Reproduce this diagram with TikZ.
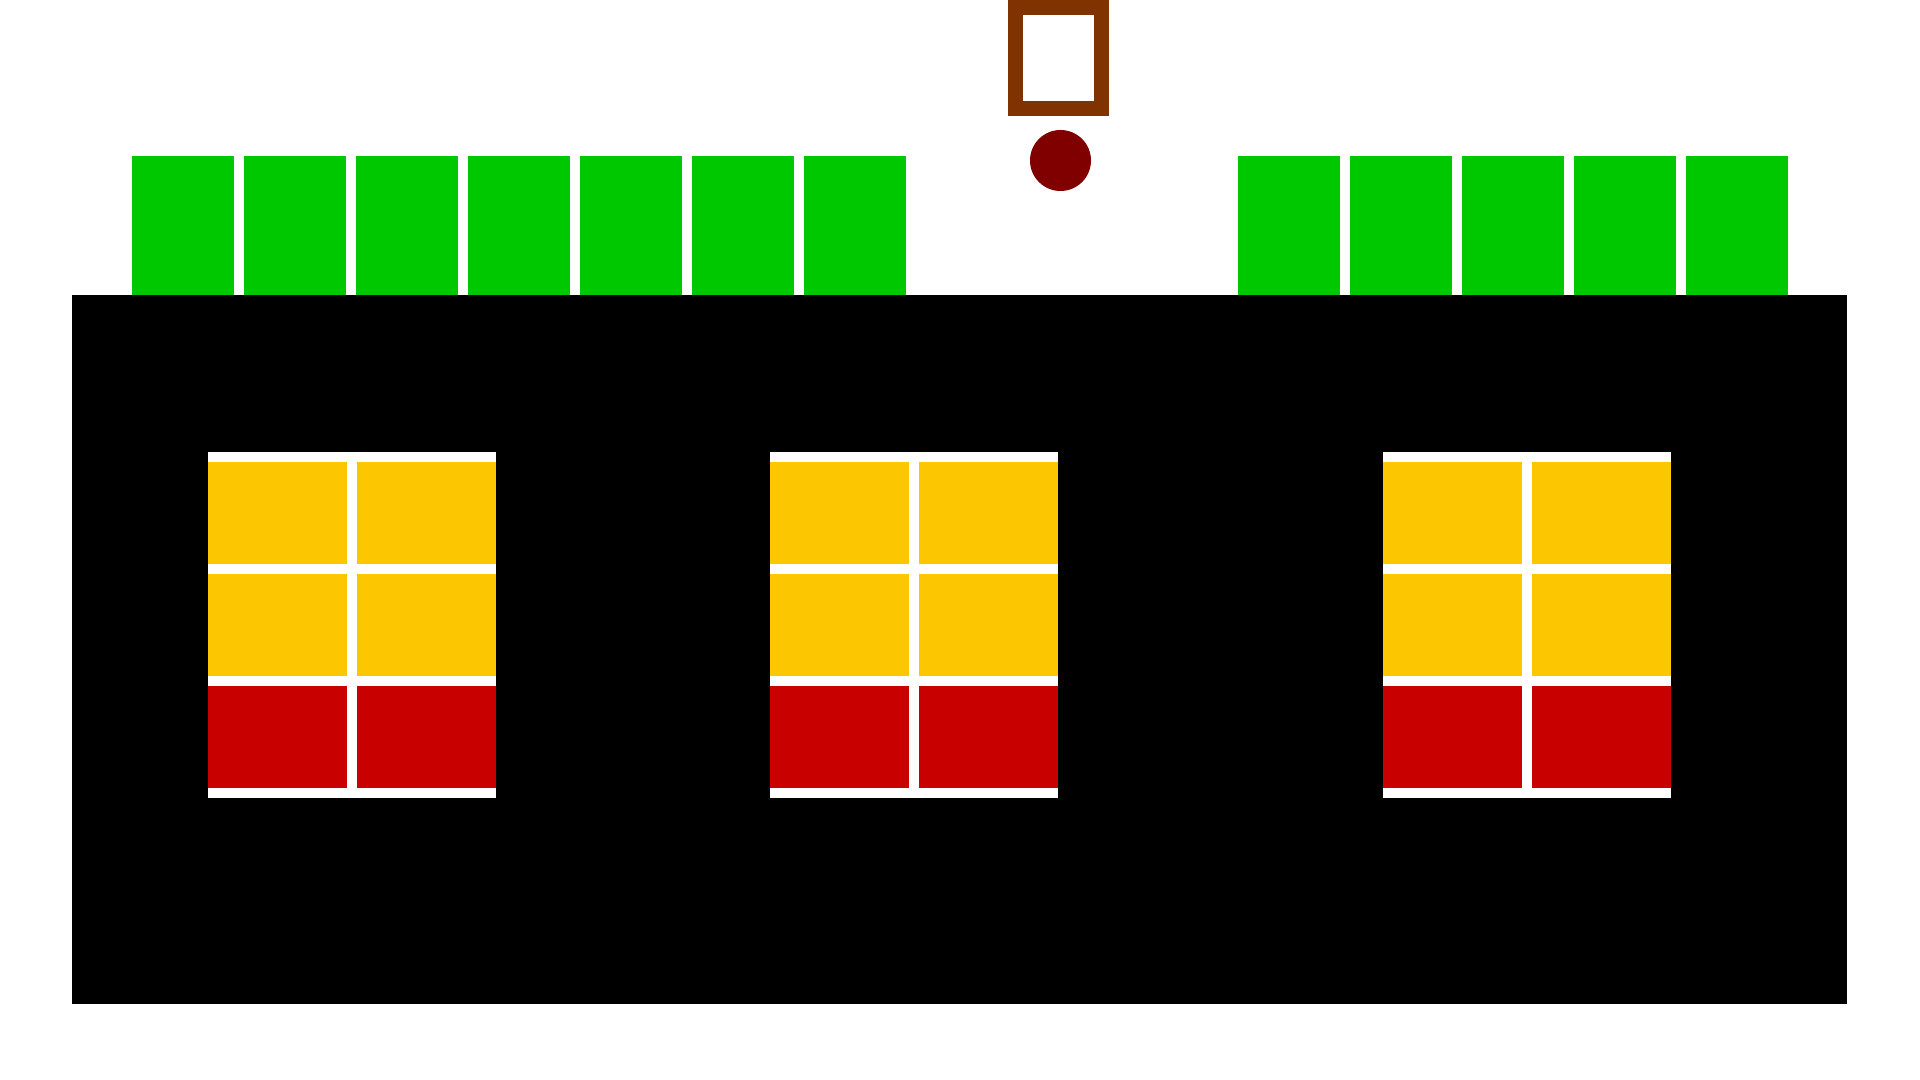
\documentclass[tikz,border=0pt]{standalone}
\definecolor{roofgreen}{RGB}{0, 200, 0}
\definecolor{paneyellow}{RGB}{253, 199, 0}
\definecolor{panered}{RGB}{200, 0, 0}
\definecolor{framebrown}{RGB}{128, 51, 0}
\definecolor{bulbred}{RGB}{128, 0, 0}
\usetikzlibrary{calc}

\tikzset{
  roofblock/.style={fill=roofgreen},
  upperpane/.style={fill=paneyellow},
  lowerpane/.style={fill=panered},
  signframe/.style={draw=framebrown, line width=0.15cm},
}

\begin{document}
\begin{tikzpicture}[x=0.01cm, y=-0.01cm]
  \useasboundingbox (0,0) rectangle (1920,1080);

  % Green blocks on the roof
  \foreach \i in {0,...,6}
    \fill[roofblock] ({132+112*\i},156) rectangle ++(102,139);
  \foreach \i in {0,...,4}
    \fill[roofblock] ({1238+112*\i},156) rectangle ++(102,139);

  % Wall
  \fill[black] (72,295) rectangle (1847,1004);

  % Windows
  \foreach \wx in {208,770,1383} {
    \fill[white] (\wx,452) rectangle ++(288,346);
    \foreach \c in {0,1} {
      \foreach \r in {0,1}
        \fill[upperpane] ({\wx+149*\c},{462+112*\r}) rectangle ++(139,102);
      \fill[lowerpane] ({\wx+149*\c},686) rectangle ++(139,102);
    }
  }

  % Sign and lamp
  \draw[signframe] (1015.5,7.5) rectangle (1101.5,108.5);
  \fill[bulbred] (1060.5,160.5) circle[radius=30.5];
\end{tikzpicture}
\end{document}
